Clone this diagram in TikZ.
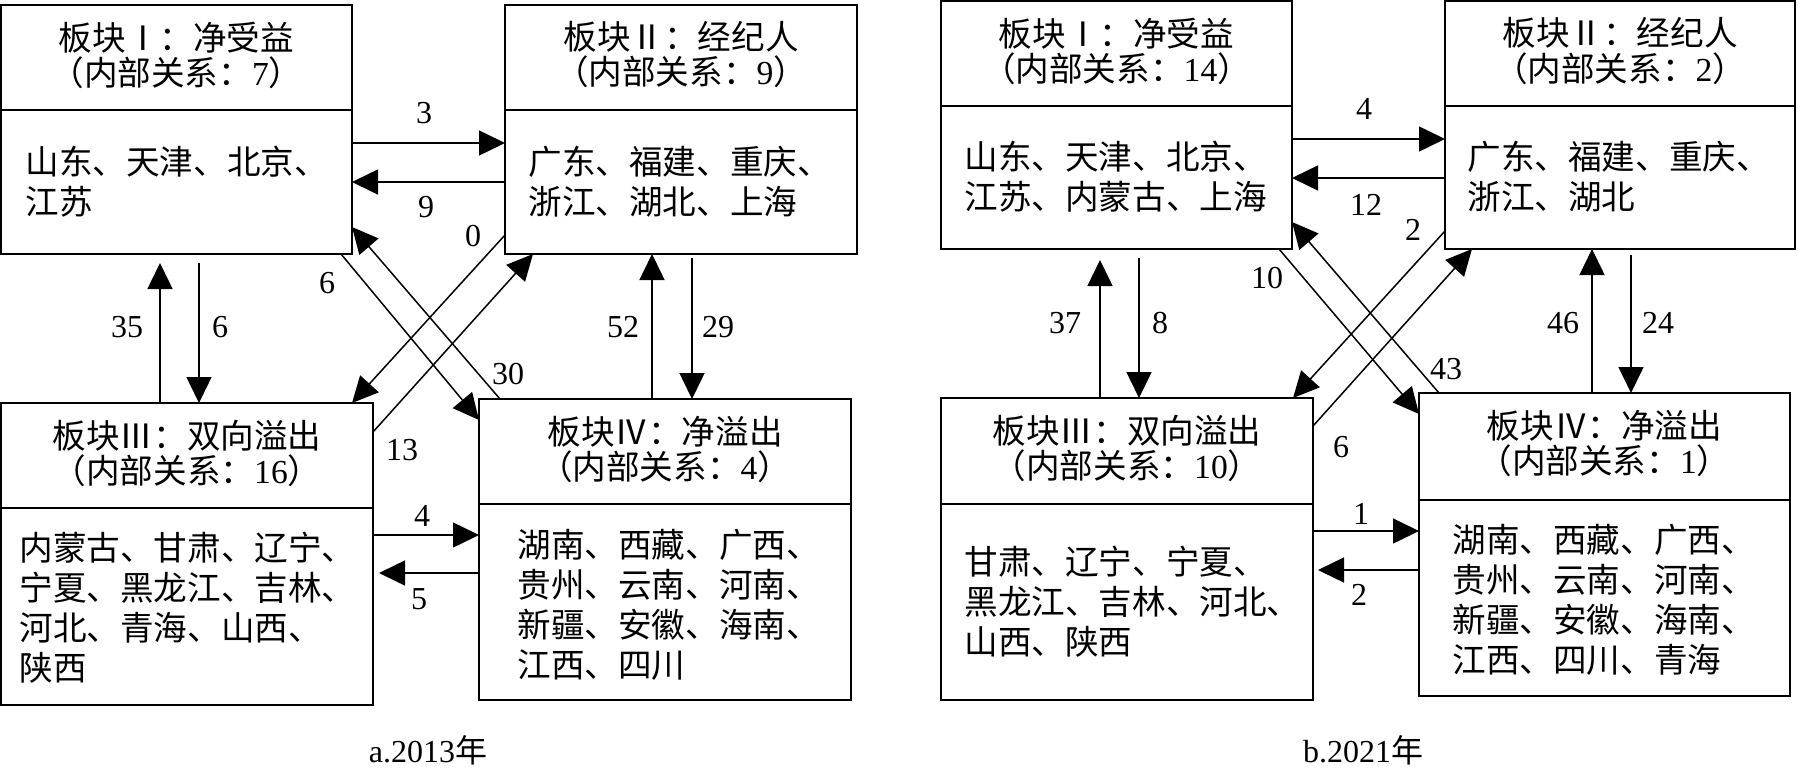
\documentclass[tikz,border=0pt]{standalone}
\usepackage{fontspec}
\setmainfont{Liberation Serif}
\newfontfamily\cjk{Noto Sans CJK SC}
\usetikzlibrary{arrows.meta,calc,fit}
\newcommand\innerrel[1]{（内部关系：{\rmfamily #1}）}
\newcommand\plate[6]{%
  \coordinate (#1nw) at (#2,#3);
  \coordinate (#1se) at (#4,#5);
  \node[plate, fit=(#1nw)(#1se)] (#1) {};
  \draw[platerule] (#2,#6) -- (#4,#6);
}
\begin{document}
\begin{tikzpicture}[x=0.5pt,y=-0.5pt,
  plate/.style={draw, inner sep=0pt, outer sep=0pt, line width=1.1pt},
  platerule/.style={line width=1.1pt},
  head/.style={align=center, inner sep=0pt, font=\fontsize{16.8}{17.5}\selectfont\cjk},
  body/.style={align=left, anchor=west, inner sep=0pt, font=\fontsize{16.8}{20}\selectfont\cjk},
  flow/.style={line width=0.75pt, -{Triangle[length=13pt,width=12.5pt]}},
  num/.style={inner sep=0pt, font=\fontsize{16}{16}\selectfont},
  captext/.style={inner sep=0pt, font=\fontsize{16}{16}\selectfont}]
\useasboundingbox (0,0) rectangle (1798,771);

% ---------- panel a ----------
\plate{A1}{1}{5}{352}{254}{110}
\plate{A2}{505}{5}{857}{254}{110}
\plate{A3}{1}{403}{373}{705}{508}
\plate{A4}{479}{399}{851}{700}{504}

\node[head] (A1h) at (176.5,55) {板块Ⅰ：净受益\\\innerrel{7}};
\node[head] (A2h) at (681,55) {板块Ⅱ：经纪人\\\innerrel{9}};
\node[head] (A3h) at (187,453) {板块Ⅲ：双向溢出\\\innerrel{16}};
\node[head] (A4h) at (665,449) {板块Ⅳ：净溢出\\\innerrel{4}};

\node[body] (A1b) at (25,182) {山东、天津、北京、\\江苏};
\node[body] (A2b) at (528,182) {广东、福建、重庆、\\浙江、湖北、上海};
\node[body] (A3b) at (19,608) {内蒙古、甘肃、辽宁、\\宁夏、黑龙江、吉林、\\河北、青海、山西、\\陕西};
\node[body] (A4b) at (517,605) {湖南、西藏、广西、\\贵州、云南、河南、\\新疆、安徽、海南、\\江西、四川};

\draw[flow] ($(A1.north east)+(0,138)$) -- ($(A2.north west)+(0,138)$);
\draw[flow] ($(A2.north west)+(0,177)$) -- ($(A1.north east)+(0,177)$);
\draw[flow] ($(A1.south east)+(-11,0)$) -- ($(A4.north west)+(0,21)$);
\draw[flow] ($(A4.north west)+(21,0)$) -- ($(A1.north east)+(0,222)$);
\draw[flow] ($(A2.north west)+(0,230)$) -- ($(A3.north east)+(-21,0)$);
\draw[flow] ($(A3.north east)+(0,29)$) -- ($(A2.south west)+(28,0)$);
\draw[flow] ($(A3.north west)+(159,0)$) -- ($(A1.south west)+(159,9)$);
\draw[flow] ($(A1.south west)+(198,9)$) -- ($(A3.north west)+(198,0)$);
\draw[flow] ($(A4.north west)+(173,0)$) -- ($(A2.south west)+(147,0)$);
\draw[flow] ($(A2.south west)+(187,4)$) -- ($(A4.north west)+(213,0)$);
\draw[flow] ($(A3.north east)+(0,132)$) -- ($(A4.north west)+(0,136)$);
\draw[flow] ($(A4.north west)+(0,174)$) -- ($(A3.north east)+(6,170)$);

\node[num] (la3) at (424,113) {3};
\node[num] (la9) at (426,207) {9};
\node[num] (la0) at (473,236) {0};
\node[num] (la6d) at (327,283) {6};
\node[num] (la35) at (127,327) {35};
\node[num] (la6v) at (220,327) {6};
\node[num] (la52) at (623,327) {52};
\node[num] (la29) at (718,327) {29};
\node[num] (la30) at (508,374) {30};
\node[num] (la13) at (402,450) {13};
\node[num] (la4) at (422,516) {4};
\node[num] (la5) at (419,599) {5};

\node[captext] (capa) at (428,750) {a.2013{\cjk 年}};

% ---------- panel b ----------
\plate{B1}{941}{1}{1292}{249}{106}
\plate{B2}{1445}{1}{1795}{249}{106}
\plate{B3}{941}{398}{1313}{700}{504}
\plate{B4}{1419}{393}{1790}{696}{500}

\node[head] (B1h) at (1116.5,51) {板块Ⅰ：净受益\\\innerrel{14}};
\node[head] (B2h) at (1620,51) {板块Ⅱ：经纪人\\\innerrel{2}};
\node[head] (B3h) at (1127,448) {板块Ⅲ：双向溢出\\\innerrel{10}};
\node[head] (B4h) at (1604.5,443) {板块Ⅳ：净溢出\\\innerrel{1}};

\node[body] (B1b) at (964,177) {山东、天津、北京、\\江苏、内蒙古、上海};
\node[body] (B2b) at (1467,177) {广东、福建、重庆、\\浙江、湖北};
\node[body] (B3b) at (964,602) {甘肃、辽宁、宁夏、\\黑龙江、吉林、河北、\\山西、陕西};
\node[body] (B4b) at (1452,600) {湖南、西藏、广西、\\贵州、云南、河南、\\新疆、安徽、海南、\\江西、四川、青海};

\draw[flow] ($(B1.north east)+(0,138)$) -- ($(B2.north west)+(0,138)$);
\draw[flow] ($(B2.north west)+(0,177)$) -- ($(B1.north east)+(0,177)$);
\draw[flow] ($(B2.north west)+(0,230)$) -- ($(B3.north east)+(-20,0)$);
\draw[flow] ($(B1.south east)+(-13,0)$) -- ($(B4.north west)+(0,21)$);
\draw[flow] ($(B4.north west)+(20,0)$) -- ($(B1.north east)+(0,221)$);
\draw[flow] ($(B3.north east)+(0,28)$) -- ($(B2.south west)+(27,0)$);
\draw[flow] ($(B3.north west)+(159,0)$) -- ($(B1.south west)+(159,11)$);
\draw[flow] ($(B1.south west)+(198,9)$) -- ($(B3.north west)+(198,0)$);
\draw[flow] ($(B4.north west)+(173,0)$) -- ($(B2.south west)+(147,0)$);
\draw[flow] ($(B2.south west)+(186,6)$) -- ($(B4.north west)+(212,0)$);
\draw[flow] ($(B3.north east)+(0,133)$) -- ($(B4.north west)+(0,138)$);
\draw[flow] ($(B4.north west)+(0,177)$) -- ($(B3.north east)+(5,172)$);

\node[num] (lb4) at (1364,109) {4};
\node[num] (lb12) at (1366,205) {12};
\node[num] (lb2d) at (1413,230) {2};
\node[num] (lb10) at (1267,278) {10};
\node[num] (lb37) at (1065,323) {37};
\node[num] (lb8) at (1160,323) {8};
\node[num] (lb46) at (1563,323) {46};
\node[num] (lb24) at (1658,323) {24};
\node[num] (lb43) at (1446,369) {43};
\node[num] (lb6) at (1341,447) {6};
\node[num] (lb1) at (1361,514) {1};
\node[num] (lb2h) at (1359,595) {2};

\node[captext] (capb) at (1363,750) {b.2021{\cjk 年}};
\end{tikzpicture}
\end{document}
